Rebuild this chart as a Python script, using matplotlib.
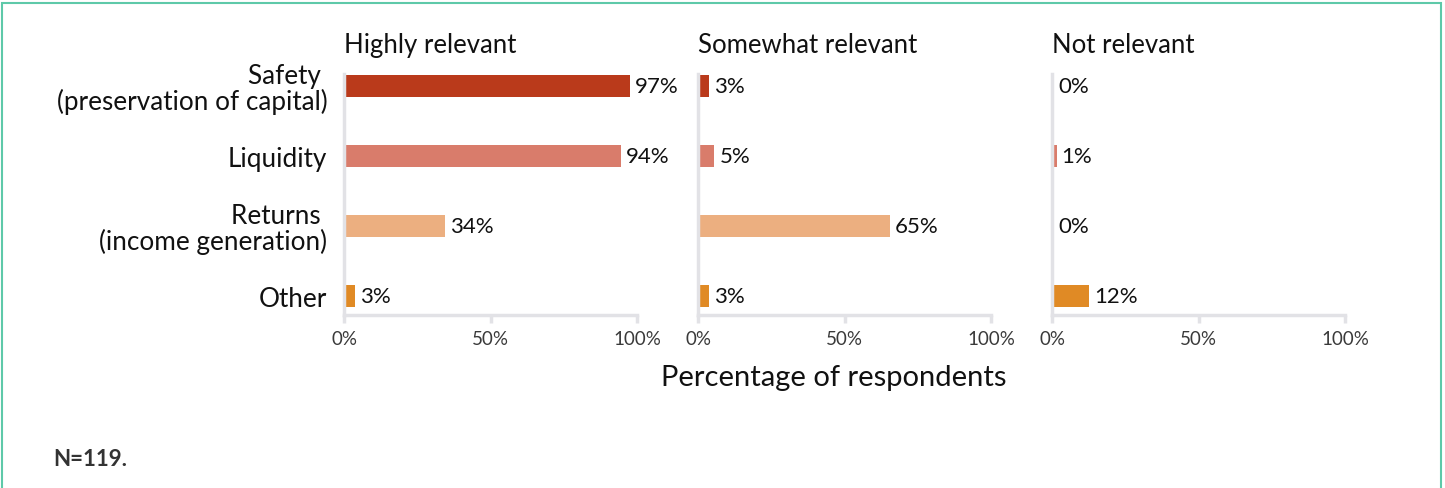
import matplotlib.pyplot as plt
from matplotlib.patches import Rectangle

plt.rcParams['font.family'] = ['Lato', 'DejaVu Sans']

categories = ['Safety \n(preservation of capital)', 'Liquidity',
              'Returns \n(income generation)', 'Other']
panels = ['Highly relevant', 'Somewhat relevant', 'Not relevant']
highly = [97, 94, 34, 3]
somewhat = [3, 5, 65, 3]
not_rel = [0, 1, 0, 12]
values = [highly, somewhat, not_rel]
colors = ['#BA3A1B', '#D97C6B', '#ECAF80', '#E08A25']
tick_labels = ['0%', '50%', '100%']

W, H = 1445, 489
fig = plt.figure(figsize=(W / 100, H / 100), dpi=100)

# teal frame around the figure
fig.patches.append(Rectangle((2 / W, -0.05), (1441 - 2) / W, 1.05 - 4 / H,
                             transform=fig.transFigure, fill=False,
                             edgecolor='#5EC9A9', linewidth=1.5))

spine_col = '#E2E2E6'
lefts = [344, 698, 1052]
top, bottom = 75, 316
ypos = list(range(len(categories)))

for i, (name, vals) in enumerate(zip(panels, values)):
    ax = fig.add_axes([lefts[i] / W, 1 - bottom / H, 293 / W, (bottom - top) / H])
    ax.barh(ypos, vals, height=0.32, color=colors, left=0.6)
    ax.set_xlim(0, 100)
    ax.set_ylim(3.27, -0.17)
    for s in ['top', 'right']:
        ax.spines[s].set_visible(False)
    for s in ['left', 'bottom']:
        ax.spines[s].set_color(spine_col)
        ax.spines[s].set_linewidth(2.5)
    ax.set_xticks([0, 50, 100])
    ax.set_xticklabels(tick_labels, fontsize=13.5, color='#3A3A3A')
    ax.tick_params(axis='x', length=6, width=2.5, color=spine_col, pad=5)
    ax.set_yticks(ypos)
    if i == 0:
        ax.set_yticklabels(categories, fontsize=18.8, color='#111111',
                           linespacing=1.0)
        ax.tick_params(axis='y', length=0, pad=12)
    else:
        ax.set_yticklabels([])
        ax.tick_params(axis='y', length=0)
    for y, v in zip(ypos, vals):
        ax.text(v + 2.3, y, f'{v}%', va='center', ha='left', fontsize=16,
                color='#111111')
    ax.set_title(name, loc='left', fontsize=18.5, color='#111111', pad=16)

fig.text(834 / W, 1 - 378 / H, 'Percentage of respondents', ha='center',
         va='center', fontsize=21, color='#111111')
fig.text(53 / W, 1 - 460 / H, 'N=119.', ha='left', va='center', fontsize=16,
         fontweight='bold', color='#333333')

fig.savefig('out.png', dpi=100)
